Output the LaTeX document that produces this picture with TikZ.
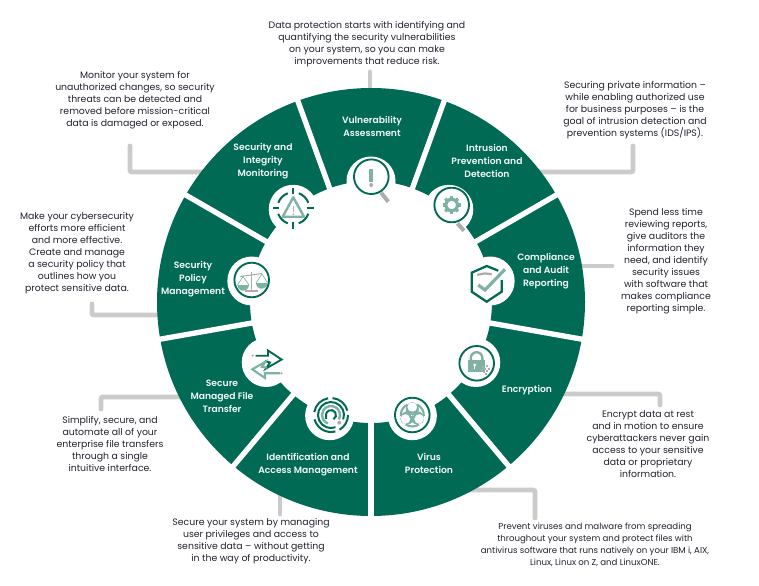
\documentclass[tikz,border=0pt]{standalone}
\usepackage{fontspec}
\setmainfont[BoldFont={Poppins SemiBold}]{Poppins}
\usepackage{tikz}
\usetikzlibrary{calc}
\definecolor{ringgreen}{HTML}{006A55}
\definecolor{iconlight}{HTML}{7FB2A2}
\definecolor{leadergray}{HTML}{CBCBCB}
\definecolor{icongray}{HTML}{ADADAD}
\definecolor{blurbink}{HTML}{20222E}
\tikzset{
  leader/.style={leadergray,line width=3.6pt,line cap=round,rounded corners=1.5pt},
  blurb/.style={inner sep=0pt,align=center,text=blurbink,font=\fontsize{7}{9}\selectfont},
  seglabel/.style={inner sep=0pt,align=center,text=white!95!ringgreen,font=\bfseries\fontsize{6.9}{9.8}\selectfont},
  iconring/.style={ringgreen,line width=1.4pt},
  iconmark/.style={iconlight,line width=2pt},
  handle/.style={icongray,line width=3pt},
}
\begin{document}
\begin{tikzpicture}[x=0.75pt,y=-0.75pt]
\useasboundingbox (0,0) rectangle (759,585);
\coordinate (hub) at (371,302);
% leader lines sit under the ring
\coordinate (monitorend) at (130,146);
\coordinate (monitorseg) at (215,172);
\coordinate (vulnend) at (370,72);
\coordinate (vulnseg) at (370,100);
\coordinate (intrusionend) at (633,146);
\coordinate (intrusionseg) at (530,172);
\coordinate (complianceend) at (612,266);
\coordinate (complianceseg) at (570,266);
\coordinate (encryptend) at (660,405);
\coordinate (encryptseg) at (535,394);
\coordinate (virusend) at (535,518);
\coordinate (virusseg) at (465,490);
\coordinate (identend) at (280,514);
\coordinate (identseg) at (280,480);
\coordinate (secureend) at (101,409);
\coordinate (secureseg) at (195,397);
\coordinate (policyend) at (92,304);
\coordinate (policyseg) at (170,315);
\draw[leader] (monitorend) |- (monitorseg);
\draw[leader] (vulnend) -- (vulnseg);
\draw[leader] (intrusionend) |- (intrusionseg);
\draw[leader] (complianceend) -- (complianceseg);
\draw[leader] (encryptend) |- (encryptseg);
\draw[leader] (virusend) |- (virusseg);
\draw[leader] (identend) -- (identseg);
\draw[leader] (secureend) |- (secureseg);
\draw[leader] (policyend) |- (policyseg);
% ring, gaps and notches
\fill[ringgreen,even odd rule] (hub) circle (214) (hub) circle (121);
\foreach \a in {10,50,...,330}
  \draw[white,line width=4pt] ($(hub)+(\a:115)$) -- ($(hub)+(\a:220)$);
\foreach \a in {-90,-50,-10,30,70,110,150,190,230}
  \fill[white] ($(hub)+(\a:121)$) circle (24.5);
% segment names
\node[seglabel] (vulnlabel) at (372,126) {Vulnerability\\Assessment};
\node[seglabel] (intrusionlabel) at (487,161) {Intrusion\\Prevention and\\Detection};
\node[seglabel] (compliancelabel) at (546,271.5) {Compliance\\and Audit\\Reporting};
\node[seglabel] (encryptlabel) at (527,390) {Encryption};
\node[seglabel] (viruslabel) at (429,463.5) {Virus\\Protection};
\node[seglabel] (identlabel) at (308,464.5) {Identification and\\Access Management};
\node[seglabel] (securelabel) at (222,396) {Secure\\Managed File\\Transfer};
\node[seglabel] (policylabel) at (193,279) {Security\\Policy\\Management};
\node[seglabel] (monitorlabel) at (263,161) {Security and\\Integrity\\Monitoring};
% descriptions
\node[blurb] (vulntext) at (367,44) {Data protection starts with identifying and\\quantifying the security vulnerabilities\\on your system, so you can make\\improvements that reduce risk.};
\node[blurb] (monitortext) at (135,100) {Monitor your system for\\unauthorized changes, so security\\threats can be detected and\\removed before mission-critical\\data is damaged or exposed.};
\node[blurb] (intrusiontext) at (635,110) {Securing private information --\\while enabling authorized use\\for business purposes -- is the\\goal of intrusion detection and\\prevention systems (IDS/IPS).};
\node[blurb] (compliancetext) at (666,261) {Spend less time\\reviewing reports,\\give auditors the\\information they\\need, and identify\\security issues\\with software that\\makes compliance\\reporting simple.};
\node[blurb] (encrypttext) at (648,444) {Encrypt data at rest\\and in motion to ensure\\cyberattackers never gain\\access to your sensitive\\data or proprietary\\information.};
\node[blurb,font=\fontsize{6.45}{9}\selectfont] (virustext) at (595,545) {Prevent viruses and malware from spreading\\throughout your system and protect files with\\antivirus software that runs natively on your IBM i, AIX,\\Linux, Linux on Z, and LinuxONE.};
\node[blurb] (identtext) at (251,541) {Secure your system by managing\\user privileges and access to\\sensitive data -- without getting\\in the way of productivity.};
\node[blurb] (securetext) at (110,444) {Simplify, secure, and\\automate all of your\\enterprise file transfers\\through a single\\intuitive interface.};
\node[blurb] (policytext) at (77,253) {Make your cybersecurity\\efforts more efficient\\and more effective.\\Create and manage\\a security policy that\\outlines how you\\protect sensitive data.};
% magnifier rings
\foreach \x/\y in {371.3/176.7,451.7/205,476.7/363.3,412.3/415,251.7/280}
  \draw[iconring] (\x,\y) circle (17.3);
% vulnerability mark
\fill[iconlight] (369,169.3) rectangle (373,181.7);
\fill[icongray] (371.2,185) circle (2);
\draw[handle] (381,192.7) -- (388.3,201.7);
% gear
\draw[iconlight,line width=2.4pt] (451.7,205) circle (5.8);
\foreach \a in {0,45,...,315}
  \draw[iconlight,line width=2.4pt] ($(451.7,205)+(\a:6)$) -- ($(451.7,205)+(\a:9)$);
\draw[handle] (457.5,223.5) -- (464,230.7);
% shield
\draw[ringgreen,line width=1.7pt] (498.3,270.7) -- (486.7,266) -- (471.7,272.7) -- (471.7,291.7) -- (486.7,301.7) -- (501.7,291.7) -- (501.7,280);
\draw[icongray,line width=1.7pt] (477.3,275) to[bend left=15] (491.7,274.3);
\draw[iconmark,line width=2.4pt] (478.3,285) -- (485,290) -- (505,269.3);
% padlock
\fill[iconlight] (467.7,360) rectangle (485,371.7);
\draw[iconlight,line width=1.8pt] (470.8,360) -- (470.8,358) arc[start angle=180,end angle=360,radius=5.8] -- (482.4,360);
\fill[white] (474.7,365) circle (1.6);
\fill[white] (474,365) rectangle (475.4,369);
\foreach \x/\y in {482/366,484/368,486/365,483/371,486/370,488/368,485/373,481/369}
  \fill[icongray] (\x,\y) rectangle ++(1.5,1.5);
% biohazard
\foreach \a in {-90,30,150}{
  \fill[iconlight,even odd rule] ($(412.3,415)+(\a:5.8)$) circle (6.6) ($(412.3,415)+(\a:8)$) circle (5);
  \draw[white,line width=0.7pt] ($(412.3,415)+(\a:0)$) -- ($(412.3,415)+(\a:6)$);
}
\draw[iconlight,line width=1.2pt] (412.3,415) circle (2.8);
\foreach \a in {-30,90,210}
  \draw[iconlight,line width=1.6pt] ($(412.3,415)+(\a-35:11.5)$) arc[start angle=\a-35,end angle=\a+35,radius=11.5];
% fingerprint
\foreach \s/\e in {-170/-100,-85/-15,0/60,75/165}
  \draw[ringgreen,line width=1.5pt] ($(331,415)+(\s:17)$) arc[start angle=\s,end angle=\e,radius=17];
\draw[ringgreen,line width=1.5pt] ($(331,415)+(20:13)$) arc[start angle=20,end angle=-290,radius=13];
\draw[iconlight,line width=1.8pt] ($(331,415)+(30:9)$) arc[start angle=30,end angle=-250,radius=9];
\draw[ringgreen,line width=1.5pt] ($(331,415)+(60:5)$) arc[start angle=60,end angle=-180,radius=5] -- ++(0,4);
\fill[icongray] (339.3,422.7) circle (2);
% transfer arrows
\draw[ringgreen,line width=1.4pt] (255.5,355.7) -- (268,355.7) -- (268,350.5) -- (281.7,359.5) -- (266,368.5) -- (270,362.5) -- (265,361);
\draw[iconlight,line width=1.6pt] (280,373.3) -- (265,373.3) -- (265,378) -- (252.3,369.3) -- (265,362) -- (262,367) -- (267,367.5);
\fill[icongray] (252.7,355.5) circle (1.2);
\fill[icongray] (281.5,373.3) circle (1.2);
% scales
\draw[icongray,line width=1.3pt] (251.5,272) -- (251.5,290.7);
\draw[icongray,line width=1.3pt] (245,291) -- (258,291);
\draw[icongray,line width=0.8pt] (240,276.5) -- (262,273.5);
\draw[iconlight,line width=0.5pt] (237.5,285) -- (243,276.5) -- (249,285);
\draw[iconlight,line width=0.5pt] (256,283) -- (262,274) -- (267.5,283);
\fill[iconlight] (237.5,285) arc[start angle=180,end angle=0,radius=5.7] -- cycle;
\fill[iconlight] (256,283) arc[start angle=180,end angle=0,radius=5.7] -- cycle;
% crosshair
\foreach \a in {0,90,180,270}{
  \draw[ringgreen,line width=1.5pt] ($(293.3,208.3)+(\a:14)$) -- ($(293.3,208.3)+(\a:20.5)$);
  \draw[ringgreen,line width=1.5pt] ($(293.3,208.3)+(\a+20:16)$) arc[start angle=\a+20,end angle=\a+70,radius=16];
}
\draw[iconlight,line width=1.8pt,line join=round] (293.3,197.3) -- (282.7,216.7) -- (304,216.7) -- cycle;
\draw[icongray,line width=1.1pt] (293.3,205.5) -- (293.3,212);
\fill[icongray] (293.3,214.2) circle (0.9);
\end{tikzpicture}
\end{document}
